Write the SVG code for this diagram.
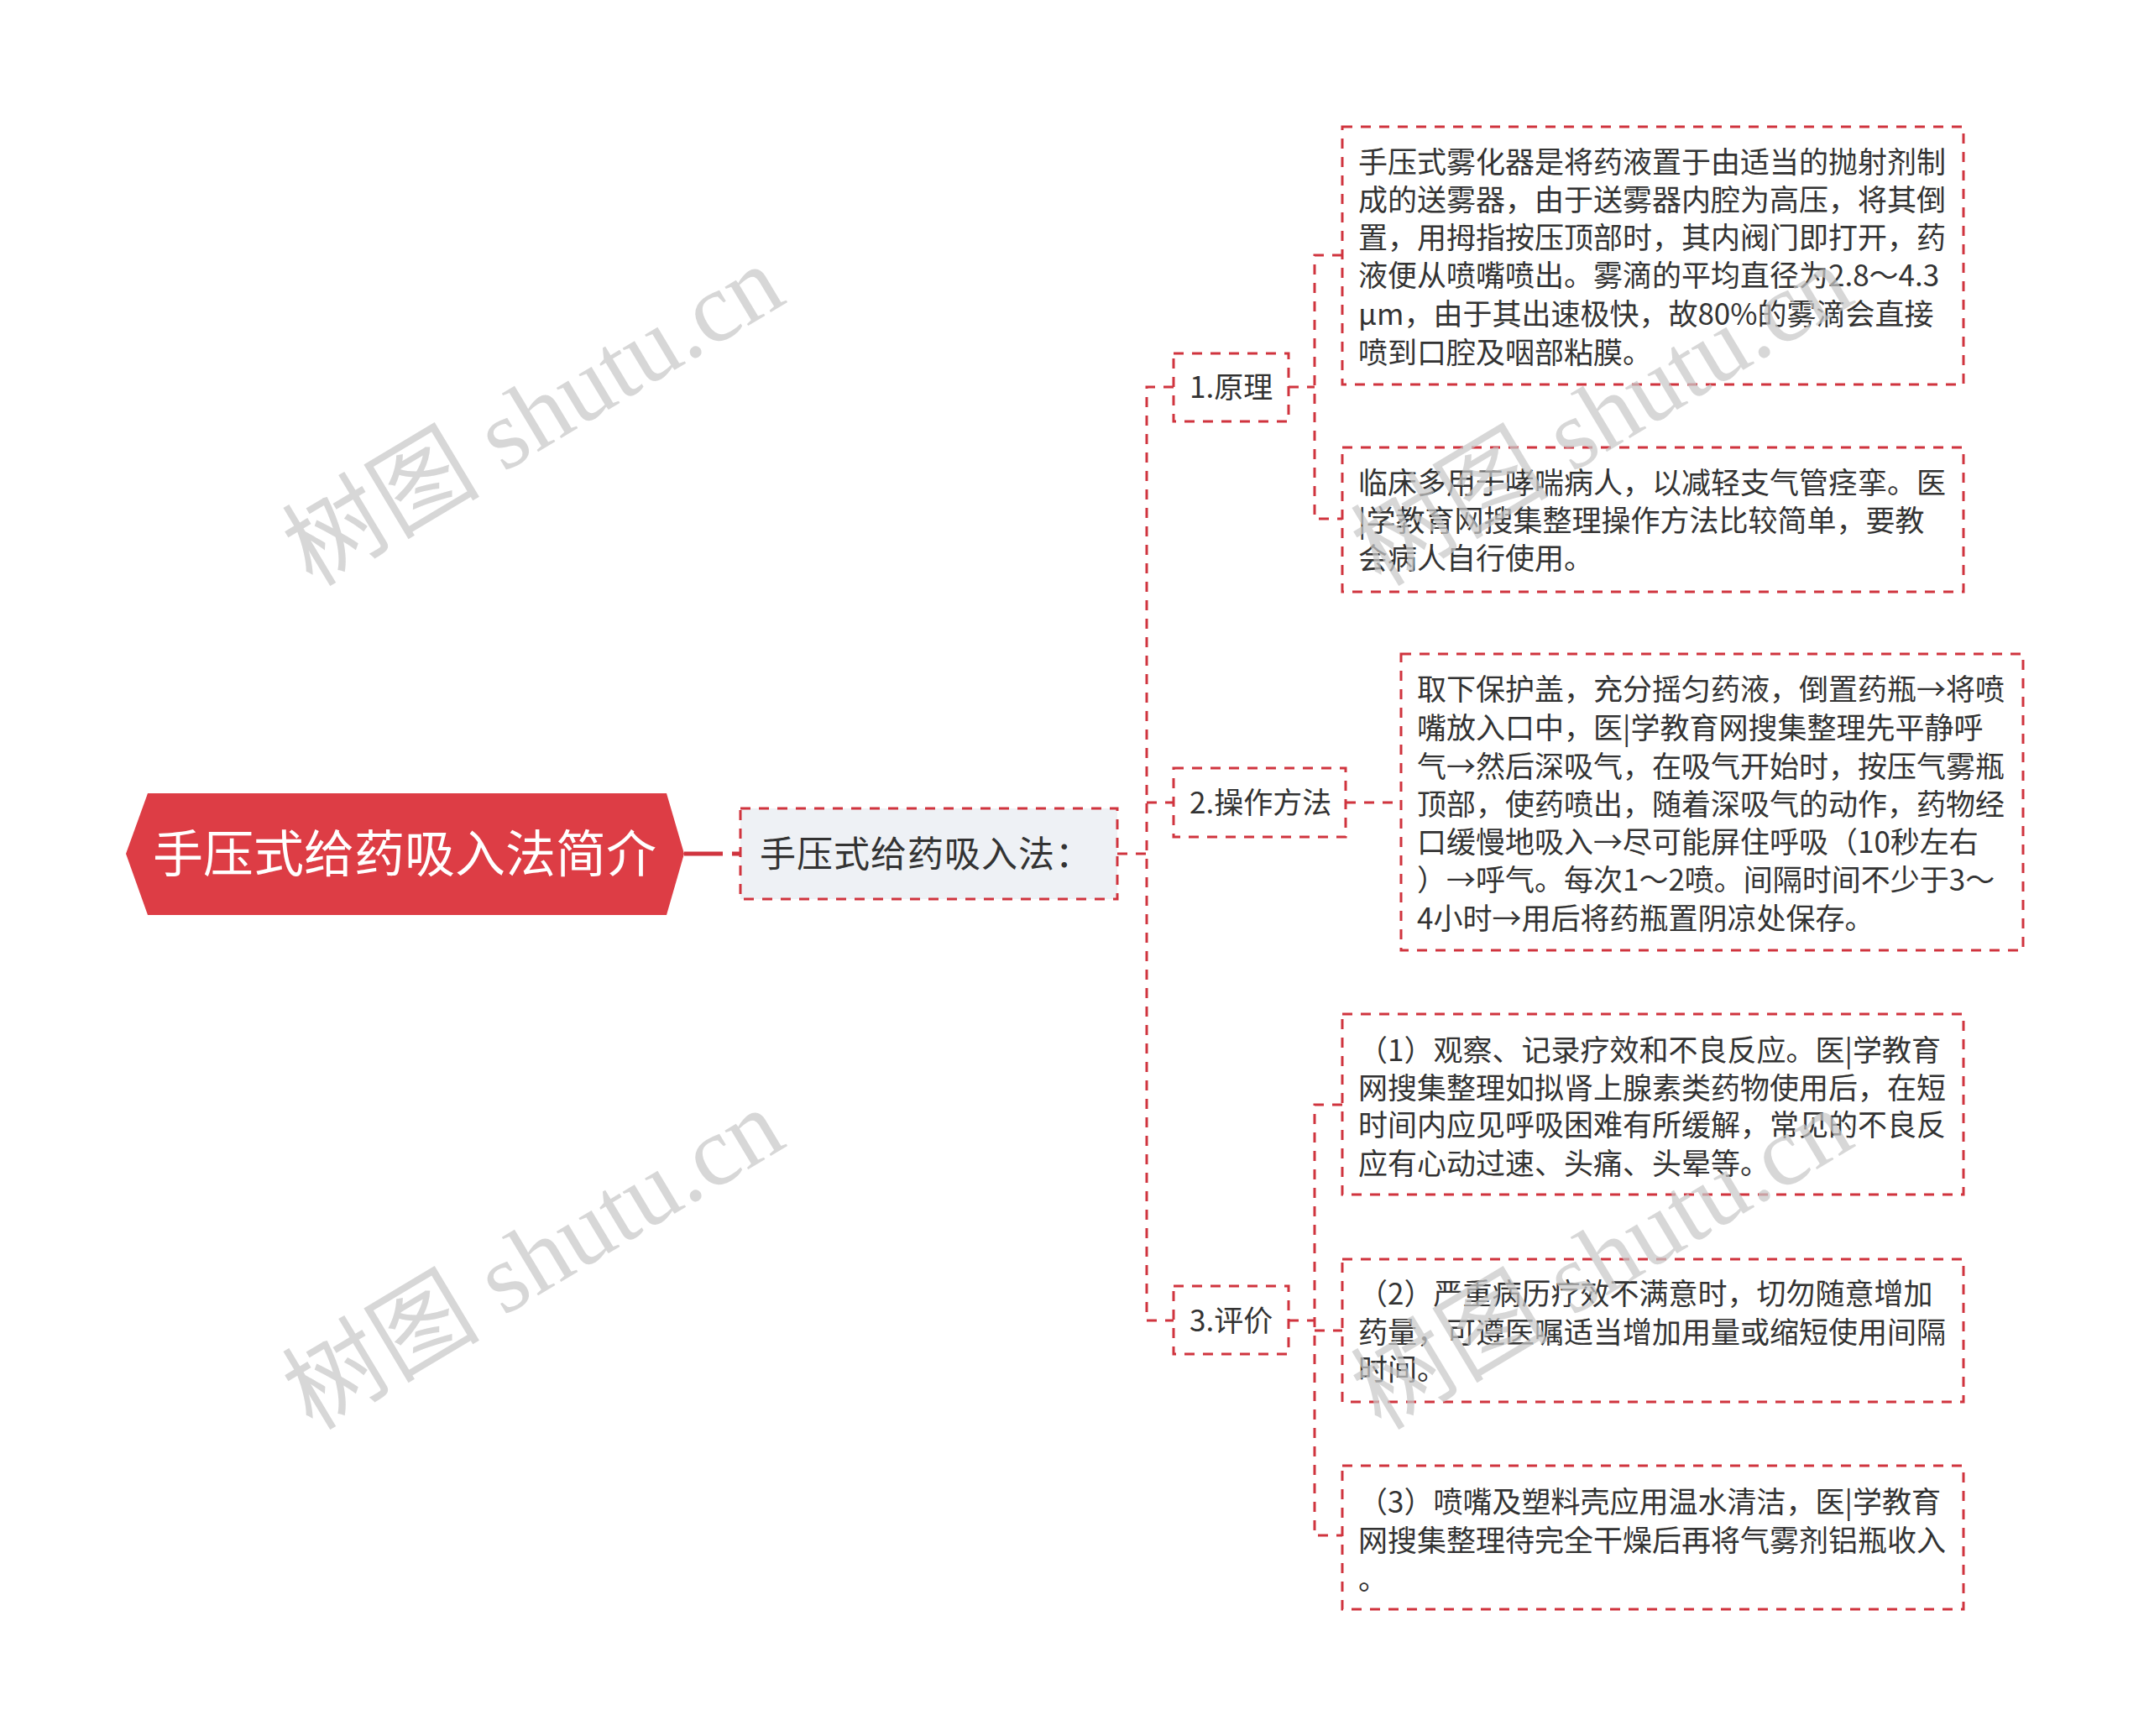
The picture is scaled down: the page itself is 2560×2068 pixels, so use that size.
<svg xmlns="http://www.w3.org/2000/svg" width="2560" height="2068" viewBox="0 0 2560 2068">
<style>
.bg{fill:#ffffff}
.box{fill:#ffffff;stroke:#d0343e;stroke-width:3;stroke-dasharray:12 10}
.sub{fill:#eef1f5;stroke:#d0343e;stroke-width:3;stroke-dasharray:12 10}
.conn{fill:none;stroke:#d0343e;stroke-width:3;stroke-dasharray:12 10}
.t{font-family:"Noto Sans CJK SC","Noto Sans",sans-serif;fill:#333333;font-size:35px}
.lbl{font-family:"Noto Sans CJK SC","Noto Sans",sans-serif;fill:#333333;font-size:35px}
.wm{font-family:"Liberation Serif","Noto Sans CJK SC",serif;font-size:118px;fill:#c8c8c8;fill-opacity:0.72}
</style>
<rect class="bg" x="0" y="0" width="2560" height="2068"/>

<g id="connectors">
  <line x1="815" y1="1017" x2="861" y2="1017" stroke="#d0343e" stroke-width="5"/>
  <line x1="872" y1="1017" x2="882" y2="1017" stroke="#d0343e" stroke-width="5"/>
  <path class="conn" d="M1331 1017 H1366"/>
  <path class="conn" d="M1398 461 H1366 V1573 H1398"/>
  <path class="conn" d="M1366 956 H1398"/>
  <path class="conn" d="M1535 461 H1566"/>
  <path class="conn" d="M1599 304 H1566 V618 H1599"/>
  <path class="conn" d="M1603 956 H1669"/>
  <path class="conn" d="M1535 1573 H1566"/>
  <path class="conn" d="M1599 1316 H1566 V1829 H1599"/>
  <path class="conn" d="M1566 1585 H1599"/>
</g>

<g id="root">
  <polygon points="150,1017 176,945 794,945 815,1017 794,1090 176,1090" fill="#dd3d45"/>
  <text x="482" y="1039" text-anchor="middle" font-family="Noto Sans CJK SC, sans-serif" font-size="60" fill="#ffffff">手压式给药吸入法简介</text>
</g>

<g id="n-main">
  <rect class="sub" x="882" y="963" width="449" height="108"/>
  <text x="905" y="1033" font-family="Noto Sans CJK SC, sans-serif" font-size="43" fill="#333333" letter-spacing="1">手压式给药吸入法：</text>
</g>

<g id="n-yuanli">
  <rect class="box" x="1398" y="421" width="137" height="81"/>
  <text class="lbl" x="1417" y="474">1.原理</text>
</g>

<g id="n-caozuo">
  <rect class="box" x="1398" y="915" width="205" height="82"/>
  <text class="lbl" x="1417" y="969">2.操作方法</text>
</g>

<g id="n-pingjia">
  <rect class="box" x="1398" y="1532" width="137" height="81"/>
  <text class="lbl" x="1417" y="1586">3.评价</text>
</g>

<g id="leaf-1">
  <rect class="box" x="1599" y="151" width="740" height="307"/>
  <text class="t" x="1618" y="206">手压式雾化器是将药液置于由适当的抛射剂制</text>
  <text class="t" x="1618" y="251">成的送雾器，由于送雾器内腔为高压，将其倒</text>
  <text class="t" x="1618" y="296">置，用拇指按压顶部时，其内阀门即打开，药</text>
  <text class="t" x="1618" y="341">液便从喷嘴喷出。雾滴的平均直径为2.8～4.3</text>
  <text class="t" x="1618" y="387">μm，由于其出速极快，故80%的雾滴会直接</text>
  <text class="t" x="1618" y="433">喷到口腔及咽部粘膜。</text>
</g>

<g id="leaf-2">
  <rect class="box" x="1599" y="533" width="740" height="172"/>
  <text class="t" x="1618" y="588">临床多用于哮喘病人，以减轻支气管痉挛。医</text>
  <text class="t" x="1618" y="633">|学教育网搜集整理操作方法比较简单，要教</text>
  <text class="t" x="1618" y="678">会病人自行使用。</text>
</g>

<g id="leaf-3">
  <rect class="box" x="1669" y="779" width="741" height="353"/>
  <text class="t" x="1688" y="834">取下保护盖，充分摇匀药液，倒置药瓶→将喷</text>
  <text class="t" x="1688" y="880">嘴放入口中，医|学教育网搜集整理先平静呼</text>
  <text class="t" x="1688" y="926">气→然后深吸气，在吸气开始时，按压气雾瓶</text>
  <text class="t" x="1688" y="971">顶部，使药喷出，随着深吸气的动作，药物经</text>
  <text class="t" x="1688" y="1016">口缓慢地吸入→尽可能屏住呼吸（10秒左右</text>
  <text class="t" x="1688" y="1061">）→呼气。每次1～2喷。间隔时间不少于3～</text>
  <text class="t" x="1688" y="1107">4小时→用后将药瓶置阴凉处保存。</text>
</g>

<g id="leaf-4">
  <rect class="box" x="1599" y="1208" width="740" height="215"/>
  <text class="t" x="1618" y="1264">（1）观察、记录疗效和不良反应。医|学教育</text>
  <text class="t" x="1618" y="1309">网搜集整理如拟肾上腺素类药物使用后，在短</text>
  <text class="t" x="1618" y="1353">时间内应见呼吸困难有所缓解，常见的不良反</text>
  <text class="t" x="1618" y="1399">应有心动过速、头痛、头晕等。</text>
</g>

<g id="leaf-5">
  <rect class="box" x="1599" y="1500" width="740" height="170"/>
  <text class="t" x="1618" y="1554">（2）严重病历疗效不满意时，切勿随意增加</text>
  <text class="t" x="1618" y="1600">药量，可遵医嘱适当增加用量或缩短使用间隔</text>
  <text class="t" x="1618" y="1644">时间。</text>
</g>

<g id="leaf-6">
  <rect class="box" x="1599" y="1746" width="740" height="171"/>
  <text class="t" x="1618" y="1802">（3）喷嘴及塑料壳应用温水清洁，医|学教育</text>
  <text class="t" x="1618" y="1848">网搜集整理待完全干燥后再将气雾剂铝瓶收入</text>
  <text class="t" x="1618" y="1894">。</text>
</g>

<g id="watermarks">
  <text class="wm" transform="translate(372,700) rotate(-31)">树图 shutu.cn</text>
  <text class="wm" transform="translate(372,1705) rotate(-31)">树图 shutu.cn</text>
  <text class="wm" transform="translate(1645,700) rotate(-31)">树图 shutu.cn</text>
  <text class="wm" transform="translate(1645,1705) rotate(-31)">树图 shutu.cn</text>
</g>
</svg>
